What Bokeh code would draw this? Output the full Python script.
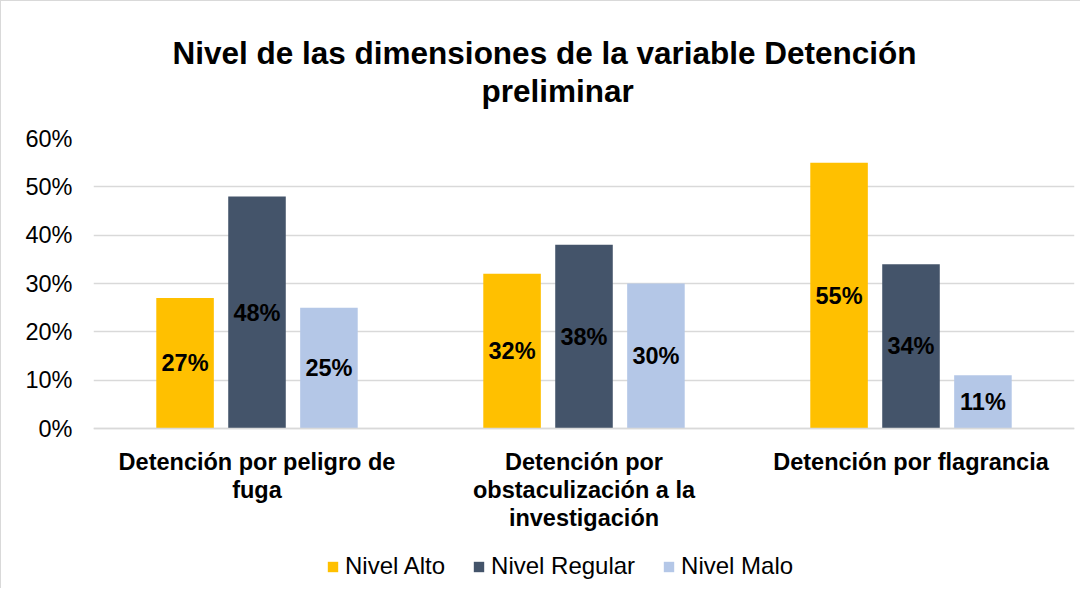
from bokeh.plotting import figure
from bokeh.models import ColumnDataSource, NumeralTickFormatter, FixedTicker, Legend, LegendItem, Title, Range1d, FactorRange
from bokeh.transform import dodge
from bokeh.core.properties import value
from bokeh.embed import file_html
from bokeh.resources import INLINE

# ---- data ----
categories = [
    "Detención por peligro de\nfuga",
    "Detención por\nobstaculización a la\ninvestigación",
    "Detención por flagrancia",
]
series_names = ["Nivel Alto", "Nivel Regular", "Nivel Malo"]
nivel_alto = [0.27, 0.32, 0.55]
nivel_regular = [0.48, 0.38, 0.34]
nivel_malo = [0.25, 0.30, 0.11]
y_ticks = [0.0, 0.1, 0.2, 0.3, 0.4, 0.5, 0.6]
title_line1 = "Nivel de las dimensiones de la variable Detención"
title_line2 = "preliminar"

colors = ["#FFC000", "#44546A", "#B4C7E7"]
offsets = [-0.22, 0.0, 0.22]
FONT = "Liberation Sans"
FS = "23.5px"

# plot area: 0..60% takes 290px; extra room below zero holds category labels and legend
PLOT_H = 290
FRAME_H = 448
y_top = 0.6
y_bottom = -y_top * (FRAME_H - PLOT_H) / PLOT_H

p = figure(
    x_range=FactorRange(*categories, range_padding=0),
    y_range=Range1d(y_bottom, y_top),
    frame_width=981, frame_height=FRAME_H,
    output_backend="svg", toolbar_location=None,
    min_border_left=92, min_border_right=6, min_border_top=137, min_border_bottom=2,
)
p.styles = {"border-left": "1px solid #d9d9d9", "border-top": "1px solid #d9d9d9"}
p.outline_line_color = None
p.title.text = ""

# title: spacer (closest to frame), then line 2, then line 1
spacer = Title(text=" ", text_font_size="1px", standoff=27)
t2 = Title(text=title_line2, align="left", offset=388, text_font=FONT, text_font_size="31.5px",
           text_font_style="bold", text_color="#000000", standoff=0)
t1 = Title(text=title_line1, align="left", offset=79, text_font=FONT, text_font_size="31.5px",
           text_font_style="bold", text_color="#000000", standoff=0)
p.add_layout(spacer, "above")
p.add_layout(t2, "above")
p.add_layout(t1, "above")

all_series = [nivel_alto, nivel_regular, nivel_malo]
data = {"cat": categories}
for name, vals in zip(series_names, all_series):
    data[name] = vals
    data[name + "_half"] = [v / 2 for v in vals]
    data[name + "_lbl"] = [f"{round(v * 100)}%" for v in vals]
src = ColumnDataSource(data)

items = []
for name, col, off in zip(series_names, colors, offsets):
    r = p.vbar(x=dodge("cat", off, range=p.x_range), top=name, bottom=0, width=0.176, source=src,
               fill_color=col, line_color=None)
    items.append(LegendItem(label=name, renderers=[r]))
    p.text(x=dodge("cat", off, range=p.x_range), y=name + "_half", text=name + "_lbl", source=src,
           text_align="center", text_baseline="middle", text_font=value(FONT),
           text_font_size=FS, text_font_style="bold", text_color="#000000")

legend = Legend(items=items, orientation="horizontal", location=(233, 6),
                label_text_font=FONT, label_text_font_size="24px", label_text_color="#000000",
                glyph_width=13, glyph_height=13, label_standoff=6, spacing=27,
                border_line_color=None, background_fill_alpha=0, padding=0, margin=0)
p.add_layout(legend, "center")

p.yaxis.ticker = FixedTicker(ticks=y_ticks)
p.yaxis.formatter = NumeralTickFormatter(format="0%")
p.yaxis.major_label_text_font = FONT
p.yaxis.major_label_text_font_size = FS
p.yaxis.major_label_text_color = "#000000"
p.yaxis.axis_line_color = None
p.yaxis.major_tick_line_color = None
p.yaxis.minor_tick_line_color = None
p.yaxis.major_label_standoff = 15

p.xaxis.fixed_location = 0
p.xaxis.major_label_text_font = FONT
p.xaxis.major_label_text_font_size = FS
p.xaxis.major_label_text_font_style = "bold"
p.xaxis.major_label_text_color = "#000000"
p.xaxis.major_label_text_line_height = 1.08
p.xaxis.axis_line_color = "#D9D9D9"
p.xaxis.axis_line_width = 1.5
p.xaxis.major_tick_line_color = None
p.xaxis.minor_tick_line_color = None
p.xaxis.major_label_standoff = 14

p.xgrid.grid_line_color = None
p.ygrid.grid_line_color = "#D9D9D9"
p.ygrid.grid_line_width = 1.5
p.ygrid.ticker = FixedTicker(ticks=y_ticks)

open("out.html", "w").write(file_html(p, INLINE))
